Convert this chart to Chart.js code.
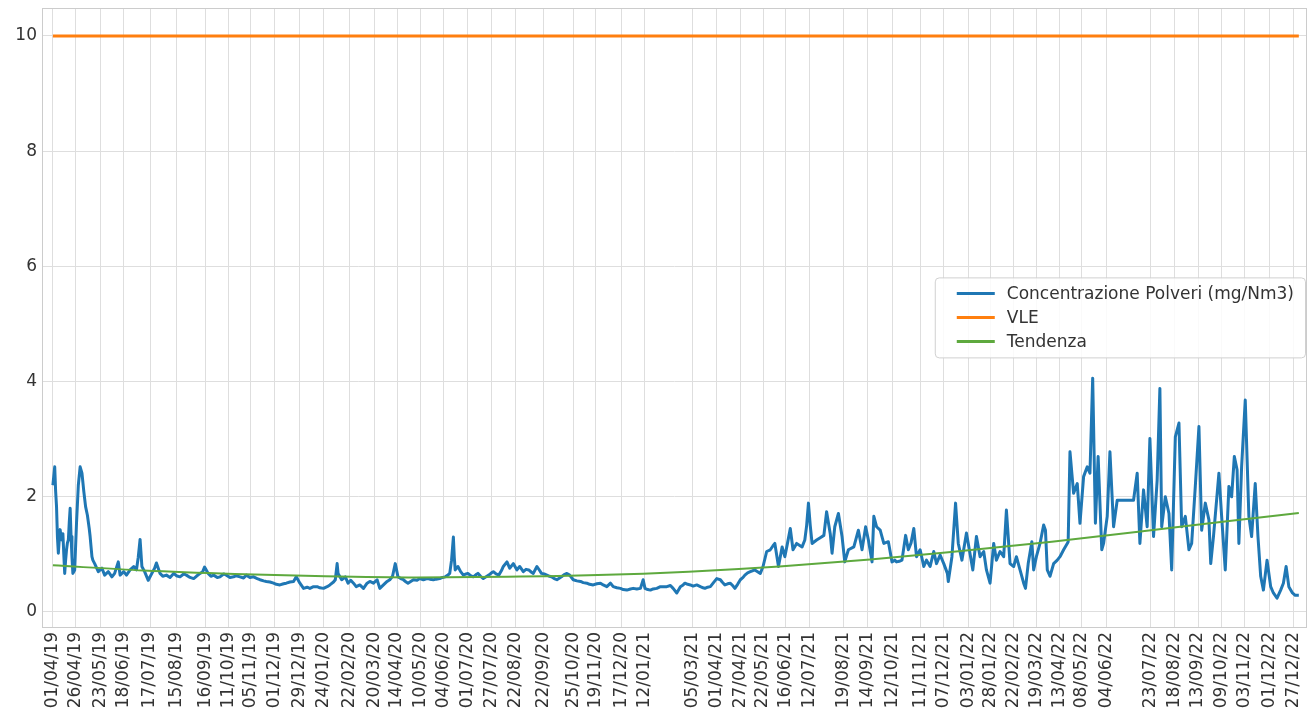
<!DOCTYPE html>
<html lang="it">
<head>
<meta charset="utf-8">
<title>Concentrazione Polveri</title>
<script src="https://cdn.jsdelivr.net/npm/chart.js@4.4.1/dist/chart.umd.min.js"></script>
<style>
  html, body { margin: 0; padding: 0; background: #ffffff; }
  #wrap { width: 1312px; height: 714px; position: relative; }
</style>
</head>
<body>
<div id="wrap"><canvas id="chart" width="1312" height="714"></canvas></div>
<script>
// Days are counted from 01/04/2019.
const START_DATE = Date.UTC(2019, 3, 1);

// Dust concentration samples (mg/Nm3)
const dustDays = [
  0,2,3,4,5,6,7,8,9,10,11,12,13,14,15,16,17,18,19,20,21,22,24,26,28,30,32,34,36,38,40,41,43,44,46,
  50,54,57,61,65,68,72,74,78,81,85,89,92,94,96,98,101,105,109,112,114,118,121,125,129,133,136,140,144,147,
  151,155,158,162,165,167,171,174,177,181,184,188,191,195,199,202,206,210,213,217,221,225,228,232,235,239,
  243,246,250,254,257,261,265,268,272,276,280,283,287,291,294,298,302,305,309,311,313,314,318,322,325,328,331,334,338,
  342,346,349,353,357,360,364,368,371,374,377,380,383,386,389,391,394,397,401,404,408,412,415,419,422,426,429,432,435,437,
  439,441,442,443,446,449,452,455,457,460,463,466,468,471,474,477,480,483,485,488,491,494,496,500,503,507,511,514,518,521,
  524,527,529,533,536,538,541,544,547,549,552,555,558,560,563,566,569,573,577,581,584,588,591,595,599,603,606,610,614,617,
  621,625,628,632,636,639,643,647,650,652,655,658,661,665,669,672,676,
  680,683,687,691,694,696,699,702,705,709,713,716,718,721,724,727,731,735,737,740,743,746,749,751,754,757,760,762,765,768,
  771,773,776,779,782,786,790,793,795,799,803,806,809,812,815,819,822,825,828,830,832,834,836,841,845,849,852,856,858,861,
  865,869,872,876,882,887,891,895,898,902,904,907,911,915,920,924,927,929,932,935,939,942,945,948,951,955,959,962,966,970,
  973,977,981,985,986,990,994,997,1001,
  1006,1013,1017,1021,1025,1028,1032,1036,1039,1043,1047,1050,1054,1058,1061,1065,1069,1071,1074,1078,1080,1083,1087,1091,
  1093,1095,1098,1102,1106,1109,1113,1117,1118,1120,1124,1128,1131,1135,1139,1142,1145,1148,1151,1155,1157,1161,1164,1168,
  1172,1190,1194,1197,1201,1205,1208,1212,1216,1219,1221,1225,1229,1232,1236,1240,1243,1247,1251,1254,1258,1262,1265,1269,
  1273,1275,1278,1284,1287,1291,1295,1298,1301,1304,1306,1309,1313,1317,1320,1324,1327,1330,1333,1337,1341,1344,1348,1352,
  1355,1358,1361,1365,1368,1372
];
const dustValues = [
  2.20,2.52,2.10,1.83,1.30,1.02,1.25,1.43,1.30,1.25,1.36,1.00,0.67,0.90,1.08,1.20,1.25,1.55,1.80,1.31,0.95,0.67,0.73,1.54,2.20,2.52,2.41,2.10,1.83,1.68,1.45,1.31,0.96,0.90,0.84,
  0.70,0.76,0.64,0.70,0.61,0.67,0.87,0.64,0.70,0.64,0.73,0.79,0.73,0.95,1.26,0.79,0.70,0.55,0.67,0.76,0.85,0.67,0.62,0.64,0.60,0.67,0.63,0.61,0.66,0.64,
  0.60,0.58,0.62,0.67,0.70,0.78,0.67,0.62,0.64,0.60,0.61,0.66,0.64,0.60,0.61,0.63,0.61,0.59,0.64,0.60,0.61,0.58,0.56,0.54,0.53,0.52,
  0.50,0.48,0.47,0.49,0.50,0.52,0.53,0.61,0.50,0.41,0.43,0.41,0.44,0.44,0.42,0.41,0.44,0.47,0.52,0.56,0.84,0.67,0.56,0.61,0.50,0.55,0.50,0.44,0.47,
  0.41,0.50,0.53,0.50,0.56,0.41,0.47,0.53,0.56,0.62,0.84,0.61,0.58,0.56,0.52,0.50,0.53,0.56,0.55,0.58,0.56,0.58,0.57,0.56,0.57,0.58,0.60,0.61,0.64,0.67,
  0.90,1.30,0.95,0.73,0.79,0.70,0.64,0.66,0.67,0.63,0.61,0.65,0.67,0.62,0.58,0.61,0.64,0.68,0.70,0.66,0.64,0.72,0.79,0.87,0.76,0.84,0.73,0.79,0.70,0.74,
  0.73,0.69,0.67,0.79,0.72,0.67,0.66,0.64,0.62,0.61,0.58,0.56,0.59,0.61,0.65,0.67,0.64,0.56,0.54,0.53,0.51,0.50,0.48,0.47,0.49,0.50,0.47,0.44,0.50,0.44,
  0.42,0.41,0.39,0.38,0.40,0.41,0.40,0.41,0.56,0.41,0.39,0.38,0.40,0.41,0.44,0.44,0.44,
  0.46,0.41,0.33,0.44,0.47,0.50,0.48,0.47,0.45,0.47,0.44,0.42,0.41,0.43,0.44,0.50,0.58,0.56,0.52,0.47,0.49,0.50,0.45,0.41,0.48,0.56,0.60,0.64,0.68,0.70,
  0.72,0.73,0.70,0.67,0.79,1.05,1.08,1.15,1.19,0.79,1.13,0.96,1.20,1.45,1.08,1.19,1.16,1.13,1.25,1.50,1.89,1.50,1.19,1.25,1.29,1.33,1.74,1.36,1.02,1.48,
  1.71,1.31,0.87,1.08,1.13,1.42,1.08,1.48,1.25,0.87,1.66,1.48,1.42,1.19,1.22,0.87,0.90,0.87,0.88,0.90,1.33,1.08,1.20,1.45,0.96,1.08,0.79,0.90,0.79,1.05,
  0.84,0.99,0.84,0.67,0.53,0.96,1.89,1.19,0.90,
  1.37,0.73,1.31,0.96,1.05,0.73,0.50,1.19,0.90,1.05,0.96,1.77,0.84,0.79,0.96,0.73,0.50,0.41,0.84,1.22,0.73,0.96,1.19,1.51,
  1.42,0.73,0.62,0.84,0.90,0.96,1.08,1.19,1.22,2.78,2.06,2.23,1.54,2.35,2.52,2.41,4.06,1.54,2.70,1.08,1.19,1.66,2.78,1.48,
  1.94,1.94,2.41,1.19,2.12,1.48,3.01,1.31,2.29,3.88,1.48,2.00,1.71,0.73,3.04,3.28,1.48,1.66,1.08,1.19,2.18,3.22,1.42,1.89,
  1.60,0.84,1.31,2.41,1.66,0.73,2.18,2.00,2.70,2.47,1.19,2.52,3.68,1.66,1.31,2.23,1.31,0.62,0.38,0.90,0.44,0.33,0.24,0.38,
  0.50,0.79,0.44,0.33,0.29,0.29
];

// Emission limit value (VLE)
const vleDays = [0, 1372];
const vleValues = [10, 10];

// Trend curve
const trendDays = [0, 100, 200, 300, 400, 500, 600, 700, 800, 900, 1000, 1100, 1200, 1300, 1372];
const trendValues = [0.81, 0.72, 0.66, 0.62, 0.60, 0.61, 0.64, 0.70, 0.79, 0.91, 1.06, 1.22, 1.40, 1.59, 1.72];

// Date tick labels on the horizontal axis
const tickLabels = [
  '01/04/19','26/04/19','23/05/19','18/06/19','17/07/19','15/08/19','16/09/19','11/10/19','05/11/19','01/12/19',
  '29/12/19','24/01/20','22/02/20','20/03/20','14/04/20','10/05/20','04/06/20','01/07/20','27/07/20','22/08/20',
  '22/09/20','25/10/20','19/11/20','17/12/20','12/01/21','05/03/21','01/04/21','27/04/21','22/05/21','16/06/21',
  '12/07/21','19/08/21','14/09/21','12/10/21','11/11/21','07/12/21','03/01/22','28/01/22','22/02/22','19/03/22',
  '13/04/22','08/05/22','04/06/22','23/07/22','18/08/22','13/09/22','09/10/22','03/11/22','01/12/22','27/12/22'
];
const yTicks = [0, 2, 4, 6, 8, 10];

const seriesLabels = ['Concentrazione Polveri (mg/Nm3)', 'VLE', 'Tendenza'];
const seriesColors = ['#1f77b4', '#ff7f0e', '#5ea93e'];

function dayOf(label) {
  const [d, m, y] = label.split('/').map(Number);
  return Math.round((Date.UTC(2000 + y, m - 1, d) - START_DATE) / 86400000);
}
const tickDays = tickLabels.map(dayOf);

const toPoints = (xs, ys) => xs.map((x, i) => ({ x: x, y: ys[i] }));

const FONT = { family: "'DejaVu Sans', sans-serif", size: 17 };
const TEXT_COLOR = '#333333';
const GRID_COLOR = '#dedede';

// Light frame around the plotting area
const framePlugin = {
  id: 'frame',
  beforeDatasetsDraw(chart) {
    const { ctx, chartArea: a } = chart;
    ctx.save();
    ctx.strokeStyle = '#cccccc';
    ctx.lineWidth = 1;
    ctx.strokeRect(Math.round(a.left) + 0.5, Math.round(a.top) + 0.5,
                   Math.round(a.right - a.left) - 1, Math.round(a.bottom - a.top) - 1);
    ctx.restore();
  }
};

// Boxed legend drawn inside the plotting area, on the right
const legendPlugin = {
  id: 'boxLegend',
  afterDatasetsDraw(chart) {
    const { ctx, chartArea: a } = chart;
    const sets = chart.data.datasets;
    ctx.save();
    ctx.font = `${FONT.size}px ${FONT.family}`;
    const textW = Math.max(...sets.map(s => ctx.measureText(s.label).width));
    const padL = 22, sampleW = 38, gap = 12, padR = 11, rowH = 24, padV = 16;
    const w = padL + sampleW + gap + textW + padR;
    const h = padV * 2 + rowH * (sets.length - 1);
    const right = a.right - 2;
    const cy = a.top + (a.bottom - a.top) * 0.499;
    const x0 = right - w, y0 = cy - h / 2;
    ctx.beginPath();
    ctx.roundRect(x0 + 0.5, y0 + 0.5, w, h, 4);
    ctx.fillStyle = 'rgba(255,255,255,0.85)';
    ctx.fill();
    ctx.strokeStyle = '#d0d0d0';
    ctx.lineWidth = 1;
    ctx.stroke();
    sets.forEach((s, i) => {
      const y = y0 + padV + i * rowH;
      ctx.beginPath();
      ctx.moveTo(x0 + padL, y);
      ctx.lineTo(x0 + padL + sampleW, y);
      ctx.strokeStyle = s.borderColor;
      ctx.lineWidth = 3;
      ctx.lineCap = 'butt';
      ctx.stroke();
      ctx.fillStyle = TEXT_COLOR;
      ctx.textBaseline = 'middle';
      ctx.textAlign = 'left';
      ctx.fillText(s.label, x0 + padL + sampleW + gap, y + 1);
    });
    ctx.restore();
  }
};

new Chart(document.getElementById('chart'), {
  type: 'line',
  data: {
    datasets: [
      {
        label: seriesLabels[0],
        data: toPoints(dustDays, dustValues),
        borderColor: seriesColors[0],
        borderWidth: 3,
        borderJoinStyle: 'round',
        pointRadius: 0,
        order: 3
      },
      {
        label: seriesLabels[1],
        data: toPoints(vleDays, vleValues),
        borderColor: seriesColors[1],
        borderWidth: 3,
        pointRadius: 0,
        order: 2
      },
      {
        label: seriesLabels[2],
        data: toPoints(trendDays, trendValues),
        borderColor: seriesColors[2],
        borderWidth: 2,
        cubicInterpolationMode: 'monotone',
        pointRadius: 0,
        order: 1
      }
    ]
  },
  options: {
    responsive: false,
    animation: false,
    events: [],
    layout: { padding: { top: 8, right: 5, left: 0, bottom: 0 } },
    plugins: { legend: { display: false }, tooltip: { enabled: false }, title: { display: false } },
    scales: {
      x: {
        type: 'linear',
        min: -12,
        max: 1381,
        afterBuildTicks(axis) { axis.ticks = tickDays.map(v => ({ value: v })); },
        afterFit(axis) {
          axis.height = 86;
          axis.paddingLeft = 0; axis.paddingRight = 0;
          axis.paddingTop = 0; axis.paddingBottom = 0;
        },
        ticks: {
          autoSkip: false,
          minRotation: 90,
          maxRotation: 90,
          padding: 4,
          color: TEXT_COLOR,
          font: FONT,
          callback: (v, i) => tickLabels[i]
        },
        grid: { color: GRID_COLOR, lineWidth: 1, drawTicks: false },
        border: { display: false }
      },
      y: {
        type: 'linear',
        min: -0.278,
        max: 10.486,
        afterBuildTicks(axis) { axis.ticks = yTicks.map(v => ({ value: v })); },
        afterFit(axis) {
          axis.width = 42;
          axis.paddingLeft = 0; axis.paddingRight = 0;
          axis.paddingTop = 0; axis.paddingBottom = 0;
        },
        ticks: {
          padding: 5,
          color: TEXT_COLOR,
          font: FONT,
          callback: v => String(v)
        },
        grid: { color: GRID_COLOR, lineWidth: 1, drawTicks: false },
        border: { display: false }
      }
    }
  },
  plugins: [framePlugin, legendPlugin]
});
</script>
</body>
</html>
